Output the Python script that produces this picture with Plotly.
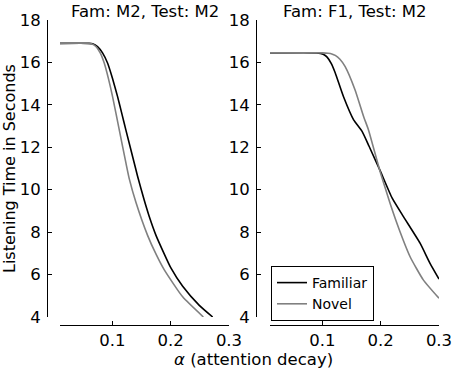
import plotly.graph_objects as go

# ---- data ----
left_fam_x = [0.01, 0.06, 0.066, 0.0744, 0.083, 0.0916, 0.1, 0.1088, 0.116, 0.123, 0.1375, 0.143, 0.1546,
              0.163, 0.1747, 0.2005, 0.2205, 0.249, 0.272]
left_fam_y = [16.9, 16.9, 16.88, 16.75, 16.45, 15.97, 15.25, 14.39, 13.6, 12.82, 11.25, 10.65, 9.5,
              8.75, 7.85, 6.3, 5.45, 4.55, 4.0]
left_nov_x = [0.01, 0.058, 0.064, 0.0716, 0.079, 0.0859, 0.093, 0.1002, 0.1117, 0.1232, 0.129, 0.1404,
              0.1603, 0.175, 0.189, 0.2205, 0.256]
left_nov_y = [16.9, 16.9, 16.88, 16.75, 16.45, 15.97, 15.25, 14.39, 12.82, 11.25, 10.5, 9.4,
              7.85, 6.95, 6.22, 4.95, 4.0]
right_fam_x = [0.01, 0.09, 0.0966, 0.102, 0.108, 0.115, 0.122, 0.136, 0.1535, 0.168, 0.18, 0.199, 0.2197,
               0.239, 0.2675, 0.2846, 0.3]
right_fam_y = [16.45, 16.45, 16.42, 16.37, 16.25, 15.95, 15.5, 14.39, 13.29, 12.75, 12.05, 10.9, 9.6,
               8.73, 7.48, 6.53, 5.79]
right_nov_x = [0.01, 0.1, 0.11, 0.116, 0.122, 0.13, 0.139, 0.156, 0.1706, 0.179, 0.199, 0.216, 0.232,
               0.2504, 0.273, 0.3]
right_nov_y = [16.45, 16.45, 16.43, 16.4, 16.33, 16.15, 15.8, 14.7, 13.45, 12.82, 10.85, 9.36, 8.1,
               6.84, 5.75, 4.88]

panel_titles = ["Fam: M2, Test: M2", "Fam: F1, Test: M2"]
series_names = ["Familiar", "Novel"]
x_ticks = [0.1, 0.2, 0.3]
y_ticks = [4, 6, 8, 10, 12, 14, 16, 18]

W, H = 454, 369
FONT = "DejaVu Sans"
BLACK = "#000000"
GRAY = "#808080"

def px_x(p):
    return p / W

def px_y(p):
    return 1 - p / H

def line(color):
    return dict(color=color, width=1.6, shape="spline", smoothing=0.5)

fig = go.Figure()
fig.add_trace(go.Scatter(x=left_fam_x, y=left_fam_y, mode="lines", name=series_names[0],
                         line=line(BLACK), xaxis="x", yaxis="y", showlegend=False))
fig.add_trace(go.Scatter(x=left_nov_x, y=left_nov_y, mode="lines", name=series_names[1],
                         line=line(GRAY), xaxis="x", yaxis="y", showlegend=False))
fig.add_trace(go.Scatter(x=right_fam_x, y=right_fam_y, mode="lines", name=series_names[0],
                         line=line(BLACK), xaxis="x2", yaxis="y2"))
fig.add_trace(go.Scatter(x=right_nov_x, y=right_nov_y, mode="lines", name=series_names[1],
                         line=line(GRAY), xaxis="x2", yaxis="y2"))

ydom = [px_y(317), px_y(20)]
tickfont = dict(family=FONT, size=16.5, color="black")

def xaxis_cfg(d0, d1):
    return dict(domain=[px_x(d0), px_x(d1)], range=[0.01, 0.3], tickvals=x_ticks,
                ticktext=[str(t) for t in x_ticks], anchor="free", position=px_y(325),
                showline=True, linecolor="black", linewidth=1, ticks="inside", ticklen=4,
                tickcolor="black", showgrid=False, zeroline=False, tickfont=tickfont,
                automargin=False)

def yaxis_cfg(pos):
    return dict(domain=ydom, range=[4, 18], tickvals=y_ticks, anchor="free", position=px_x(pos),
                showline=True, linecolor="black", linewidth=1, ticks="inside", ticklen=4,
                tickcolor="black", showgrid=False, zeroline=False, tickfont=tickfont,
                ticklabelstandoff=3, automargin=False)

fig.update_layout(
    template="none",
    width=W, height=H, autosize=False,
    margin=dict(l=0, r=0, t=0, b=0, pad=0),
    paper_bgcolor="white", plot_bgcolor="white",
    font=dict(family=FONT, color="black"),
    xaxis=xaxis_cfg(60, 229),
    yaxis=yaxis_cfg(47),
    xaxis2=xaxis_cfg(270, 439),
    yaxis2=yaxis_cfg(256),
    legend=dict(x=px_x(271), y=px_y(266), xanchor="left", yanchor="top",
                bordercolor="black", borderwidth=1, bgcolor="white",
                font=dict(family=FONT, size=14, color="black"), tracegroupgap=0),
    showlegend=True,
)

fig.add_annotation(text=panel_titles[0], x=px_x(144.5), y=px_y(11), xref="paper", yref="paper",
                   showarrow=False, xanchor="center", yanchor="middle",
                   font=dict(family=FONT, size=16.5, color="black"))
fig.add_annotation(text=panel_titles[1], x=px_x(354.5), y=px_y(11), xref="paper", yref="paper",
                   showarrow=False, xanchor="center", yanchor="middle",
                   font=dict(family=FONT, size=16.5, color="black"))
fig.add_annotation(text="<i>α</i> (attention decay)", x=px_x(253), y=px_y(359), xref="paper", yref="paper",
                   showarrow=False, xanchor="center", yanchor="middle",
                   font=dict(family=FONT, size=16.5, color="black"))
fig.add_annotation(text="Listening Time in Seconds", x=px_x(9.5), y=px_y(168.5), xref="paper", yref="paper",
                   showarrow=False, xanchor="center", yanchor="middle", textangle=-90,
                   font=dict(family=FONT, size=16, color="black"))

fig.write_html("out.html", config={"responsive": False, "displayModeBar": False},
               post_script="document.body.style.margin='0';document.body.style.padding='0';")
